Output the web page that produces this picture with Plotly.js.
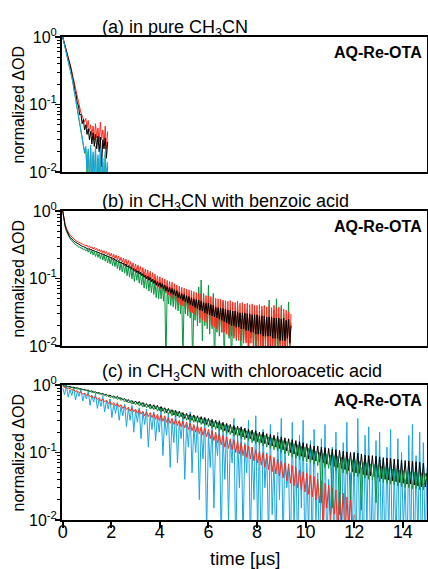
<!DOCTYPE html>
<html>
<head>
<meta charset="utf-8">
<script src="https://cdn.plot.ly/plotly-3.0.1.min.js"></script>
<style>html,body{margin:0;padding:0;background:#fff;}</style>
</head>
<body>
<div id="chart" style="width:428px;height:569px;"></div>
<script>
// ---------- data (normalized ΔOD vs time in µs) ----------
const panelTitles = ["(a) in pure CH<sub>3</sub>CN", "(b) in CH<sub>3</sub>CN with benzoic acid", "(c) in CH<sub>3</sub>CN with chloroacetic acid"];
const sampleLabel = "AQ-Re-OTA";
const yTickVals = [0.01, 0.1, 1];
const yTickText = ["10<sup>-2</sup>", "10<sup>-1</sup>", "10<sup>0</sup>"];
const xTickVals = [0, 2, 4, 6, 8, 10, 12, 14];

// panel (a): sampling step 0.05 µs
const timeStepA = 0.05;
const aBlack = [1.0,0.86,0.71,0.63,0.52,0.46,0.37,0.33,0.25,0.22,0.16,0.14,0.105,0.095,0.07,0.072,0.052,0.06,0.042,0.05,0.036,0.044,0.03,0.04,0.026,0.038,0.024,0.036,0.022,0.034,0.02,0.033,0.012,0.03,0.022,0.032,0.016,0.028];
const aRed = [1.0,0.87,0.74,0.64,0.55,0.47,0.4,0.34,0.28,0.23,0.19,0.15,0.125,0.1,0.085,0.075,0.068,0.06,0.055,0.062,0.045,0.058,0.04,0.05,0.035,0.048,0.03,0.052,0.032,0.045,0.028,0.055,0.03,0.042,0.025,0.048,0.022,0.04];
const aBlue = [1.0,0.84,0.7,0.6,0.5,0.42,0.35,0.29,0.23,0.18,0.14,0.11,0.085,0.068,0.052,0.04,0.03,0.025,0.02,0.024,0.011,0.022,0.008,0.025,0.006,0.02,0.009,0.024,0.005,0.018,0.007,0.022,0.006,0.016,0.004,0.02,0.008,0.014];
const aGreen = [1.0,0.84,0.7,0.6,0.5,0.42,0.35,0.29,0.23,0.18,0.14,0.11,0.085,0.067,0.051,0.039,0.029,0.024,0.019,0.022,0.01,0.02,0.007,0.022,0.005,0.018,0.008,0.021,0.004,0.016,0.006,0.02,0.005,0.014,0.004,0.018,0.007,0.012];

// panel (b): sampling step 0.05 µs
const timeStepB = 0.05;
const bBlack = [1.0,0.76,0.6,0.53,0.47,0.44,0.41,0.39,0.375,0.36,
  0.35,0.34,0.33,0.325,0.316,0.31,0.3,0.297,0.29,0.285,
  0.28,0.272,0.278,0.265,0.268,0.256,0.26,0.249,0.252,0.242,
  0.244,0.232,0.238,0.226,0.23,0.218,0.222,0.21,0.214,0.203,
  0.206,0.192,0.2,0.186,0.19,0.178,0.184,0.17,0.176,0.165,
  0.17,0.156,0.164,0.148,0.156,0.142,0.15,0.136,0.142,0.128,
  0.136,0.122,0.13,0.116,0.124,0.11,0.118,0.104,0.112,0.099,
  0.108,0.094,0.104,0.09,0.098,0.085,0.094,0.08,0.09,0.077,
  0.087,0.074,0.084,0.07,0.08,0.065,0.076,0.063,0.074,0.06,
  0.071,0.058,0.069,0.055,0.066,0.052,0.062,0.05,0.06,0.047,
  0.058,0.045,0.056,0.043,0.054,0.041,0.052,0.039,0.05,0.037,
  0.049,0.036,0.048,0.034,0.046,0.033,0.044,0.031,0.043,0.03,
  0.043,0.029,0.041,0.028,0.04,0.027,0.038,0.026,0.037,0.025,
  0.037,0.024,0.036,0.023,0.035,0.022,0.034,0.021,0.034,0.02,
  0.033,0.02,0.033,0.019,0.032,0.019,0.031,0.018,0.031,0.018,
  0.031,0.017,0.03,0.017,0.03,0.016,0.029,0.016,0.029,0.015,
  0.029,0.015,0.028,0.015,0.028,0.014,0.028,0.014,0.027,0.014,
  0.027,0.014,0.027,0.013,0.026,0.013,0.026,0.013,0.026,0.012,
  0.025,0.012,0.026,0.012,0.024,0.013,0.025,0.011,0.02];
const bRed = [1.0,0.78,0.63,0.56,0.5,0.47,0.44,0.42,0.4,0.385,
  0.375,0.36,0.355,0.345,0.34,0.33,0.325,0.318,0.314,0.305,
  0.31,0.29,0.305,0.282,0.296,0.272,0.288,0.264,0.28,0.256,
  0.272,0.246,0.266,0.24,0.258,0.232,0.25,0.222,0.242,0.214,
  0.236,0.205,0.228,0.198,0.222,0.19,0.214,0.182,0.206,0.174,
  0.2,0.166,0.194,0.158,0.186,0.15,0.178,0.142,0.17,0.134,
  0.164,0.126,0.158,0.12,0.15,0.113,0.145,0.106,0.138,0.1,
  0.134,0.095,0.128,0.089,0.122,0.083,0.116,0.078,0.11,0.074,
  0.106,0.07,0.102,0.065,0.098,0.061,0.094,0.057,0.09,0.054,
  0.088,0.05,0.084,0.047,0.08,0.044,0.077,0.041,0.074,0.039,
  0.072,0.037,0.07,0.035,0.068,0.032,0.066,0.031,0.064,0.029,
  0.062,0.028,0.06,0.026,0.059,0.024,0.058,0.023,0.056,0.022,
  0.055,0.021,0.054,0.02,0.052,0.019,0.051,0.018,0.05,0.017,
  0.049,0.016,0.048,0.016,0.047,0.015,0.046,0.014,0.047,0.014,
  0.045,0.013,0.044,0.013,0.046,0.012,0.043,0.012,0.044,0.011,
  0.042,0.011,0.043,0.01,0.041,0.011,0.042,0.009,0.04,0.01,
  0.04,0.009,0.041,0.01,0.039,0.008,0.04,0.009,0.038,0.008,
  0.039,0.009,0.037,0.008,0.04,0.007,0.036,0.009,0.038,0.007,
  0.036,0.008,0.035,0.007,0.034,0.009,0.032,0.008,0.03];
const bGreen = [1.0,0.74,0.58,0.5,0.45,0.42,0.39,0.37,0.355,0.34,
  0.33,0.31,0.31,0.29,0.295,0.28,0.285,0.265,0.275,0.255,
  0.27,0.245,0.27,0.232,0.26,0.222,0.252,0.212,0.245,0.205,
  0.236,0.195,0.232,0.188,0.224,0.18,0.215,0.17,0.208,0.165,
  0.2,0.155,0.194,0.15,0.185,0.14,0.178,0.132,0.17,0.125,
  0.165,0.12,0.16,0.11,0.152,0.105,0.145,0.098,0.138,0.09,
  0.132,0.094,0.126,0.085,0.12,0.08,0.114,0.072,0.108,0.07,
  0.104,0.065,0.1,0.062,0.095,0.058,0.09,0.052,0.087,0.05,
  0.084,0.05,0.081,0.046,0.078,0.005,0.074,0.042,0.072,0.04,
  0.07,0.038,0.068,0.035,0.064,0.033,0.06,0.03,0.058,0.006,
  0.056,0.03,0.055,0.028,0.053,0.026,0.05,0.005,0.048,0.024,
  0.047,0.02,0.075,0.022,0.095,0.012,0.06,0.02,0.042,0.018,
  0.08,0.015,0.04,0.018,0.06,0.005,0.037,0.016,0.036,0.014,
  0.036,0.016,0.045,0.006,0.034,0.015,0.033,0.013,0.032,0.005,
  0.032,0.014,0.031,0.012,0.04,0.015,0.03,0.004,0.03,0.013,
  0.03,0.012,0.036,0.005,0.029,0.013,0.028,0.011,0.033,0.004,
  0.028,0.012,0.027,0.01,0.034,0.005,0.027,0.012,0.026,0.01,
  0.048,0.006,0.026,0.011,0.034,0.009,0.05,0.004,0.025,0.011,
  0.04,0.01,0.03,0.005,0.024,0.012,0.045,0.009,0.022];

// panel (c): sampling step 0.075 µs
const timeStepC = 0.075;
const cBlack = [0.99,0.96,0.97,0.94,0.95,0.92,0.93,0.9,0.91,0.88,
  0.88,0.85,0.86,0.83,0.84,0.8,0.82,0.78,0.79,0.76,
  0.77,0.73,0.75,0.71,0.73,0.68,0.71,0.66,0.69,0.64,
  0.68,0.62,0.65,0.6,0.63,0.57,0.61,0.55,0.59,0.53,
  0.58,0.52,0.57,0.5,0.55,0.48,0.53,0.47,0.52,0.45,
  0.51,0.44,0.5,0.42,0.48,0.41,0.46,0.39,0.45,0.38,
  0.43,0.36,0.42,0.35,0.41,0.34,0.39,0.32,0.38,0.31,
  0.37,0.3,0.36,0.29,0.35,0.28,0.34,0.27,0.33,0.26,
  0.32,0.25,0.31,0.24,0.3,0.23,0.29,0.22,0.28,0.21,
  0.27,0.2,0.26,0.195,0.25,0.185,0.245,0.18,0.24,0.17,
  0.23,0.165,0.22,0.16,0.215,0.15,0.21,0.145,0.2,0.14,
  0.2,0.135,0.19,0.13,0.185,0.125,0.18,0.12,0.175,0.115,
  0.17,0.11,0.165,0.105,0.16,0.1,0.155,0.095,0.15,0.09,
  0.145,0.088,0.14,0.085,0.135,0.08,0.13,0.078,0.125,0.075,
  0.125,0.072,0.12,0.07,0.118,0.067,0.115,0.065,0.112,0.062,
  0.11,0.06,0.108,0.058,0.105,0.056,0.102,0.054,0.1,0.052,
  0.1,0.05,0.098,0.049,0.095,0.047,0.092,0.046,0.09,0.045,
  0.09,0.044,0.088,0.043,0.086,0.041,0.084,0.04,0.083,0.039,
  0.082,0.038,0.08,0.037,0.079,0.036,0.077,0.035,0.076,0.034,
  0.075,0.034,0.074,0.033,0.073,0.032,0.072,0.031,0.07,0.031,
  0.05];
const cGreen = [0.97,0.98,0.94,0.95,0.92,0.93,0.89,0.9,0.87,0.88,
  0.85,0.87,0.83,0.84,0.8,0.82,0.77,0.8,0.75,0.77,
  0.73,0.76,0.7,0.73,0.68,0.71,0.65,0.69,0.63,0.67,
  0.61,0.66,0.59,0.63,0.56,0.61,0.54,0.59,0.52,0.57,
  0.51,0.56,0.49,0.55,0.47,0.53,0.46,0.51,0.44,0.5,
  0.43,0.49,0.41,0.47,0.4,0.46,0.38,0.44,0.37,0.43,
  0.35,0.42,0.34,0.4,0.33,0.39,0.31,0.37,0.3,0.36,
  0.29,0.35,0.28,0.34,0.27,0.33,0.26,0.32,0.25,0.31,
  0.24,0.3,0.23,0.29,0.22,0.28,0.21,0.27,0.2,0.26,
  0.19,0.25,0.185,0.24,0.175,0.235,0.17,0.23,0.16,0.22,
  0.155,0.21,0.15,0.205,0.14,0.2,0.135,0.19,0.13,0.185,
  0.125,0.18,0.12,0.17,0.115,0.165,0.11,0.16,0.105,0.155,
  0.1,0.15,0.095,0.145,0.09,0.14,0.085,0.135,0.082,0.13,
  0.078,0.125,0.075,0.12,0.072,0.115,0.07,0.11,0.067,0.105,
  0.064,0.1,0.018,0.098,0.06,0.095,0.058,0.092,0.015,0.09,
  0.054,0.088,0.012,0.085,0.05,0.082,0.048,0.08,0.02,0.078,
  0.045,0.076,0.044,0.074,0.014,0.072,0.042,0.07,0.04,0.068,
  0.039,0.066,0.018,0.064,0.037,0.062,0.036,0.06,0.035,0.058,
  0.034,0.057,0.033,0.056,0.032,0.055,0.031,0.054,0.03,0.053,
  0.03,0.052,0.029,0.051,0.029,0.05,0.028,0.05,0.028,0.049,
  0.04];
const cRed = [0.96,0.92,0.93,0.88,0.89,0.84,0.86,0.8,0.82,0.77,
  0.79,0.73,0.76,0.7,0.73,0.67,0.7,0.64,0.67,0.61,
  0.65,0.58,0.62,0.56,0.6,0.53,0.57,0.51,0.55,0.49,
  0.53,0.47,0.51,0.45,0.49,0.43,0.47,0.41,0.46,0.4,
  0.44,0.38,0.43,0.37,0.41,0.35,0.4,0.34,0.39,0.33,
  0.38,0.31,0.37,0.3,0.36,0.29,0.35,0.28,0.33,0.27,
  0.32,0.26,0.31,0.25,0.3,0.24,0.29,0.23,0.28,0.22,
  0.27,0.21,0.26,0.2,0.25,0.19,0.24,0.18,0.23,0.17,
  0.22,0.16,0.21,0.15,0.2,0.14,0.19,0.13,0.18,0.12,
  0.17,0.115,0.16,0.11,0.155,0.1,0.15,0.095,0.14,0.09,
  0.13,0.085,0.125,0.08,0.12,0.075,0.11,0.07,0.105,0.065,
  0.1,0.06,0.095,0.056,0.09,0.052,0.085,0.048,0.08,0.045,
  0.075,0.042,0.07,0.038,0.068,0.035,0.064,0.032,0.06,0.03,
  0.055,0.028,0.052,0.026,0.05,0.024,0.046,0.022,0.044,0.02,
  0.04,0.018,0.038,0.006,0.035,0.015,0.033,0.008,0.03,0.012,
  0.028,0.005,0.026,0.01,0.025,0.004,0.022,0.008,0.02,0.005,
  0.012];
const cBlue = [0.9,0.72,0.98,0.66,0.85,0.7,0.92,0.6,0.8,0.68,
  0.86,0.58,0.75,0.62,0.8,0.5,0.7,0.56,0.74,0.45,
  0.62,0.48,0.68,0.4,0.58,0.44,0.62,0.33,0.52,0.38,
  0.55,0.3,0.48,0.35,0.52,0.24,0.45,0.3,0.5,0.2,
  0.42,0.28,0.46,0.16,0.4,0.26,0.44,0.12,0.36,0.22,
  0.4,0.15,0.34,0.2,0.45,0.09,0.32,0.18,0.38,0.06,
  0.3,0.14,0.42,0.07,0.28,0.16,0.36,0.04,0.26,0.12,
  0.4,0.05,0.24,0.1,0.3,0.02,0.22,0.08,0.33,0.006,
  0.2,0.06,0.28,0.015,0.18,0.09,0.3,0.004,0.2,0.04,
  0.26,0.01,0.15,0.07,0.32,0.003,0.18,0.03,0.24,0.005,
  0.14,0.05,0.3,0.004,0.12,0.02,0.35,0.006,0.16,0.002,
  0.22,0.03,0.1,0.005,0.26,0.012,0.08,0.003,0.2,0.02,
  0.32,0.004,0.12,0.03,0.06,0.002,0.28,0.008,0.1,0.003,
  0.18,0.015,0.3,0.002,0.07,0.006,0.15,0.003,0.22,0.01,
  0.05,0.002,0.16,0.008,0.26,0.003,0.04,0.012,0.12,0.002,
  0.2,0.004,0.07,0.002,0.14,0.009,0.28,0.003,0.05,0.006,
  0.1,0.002,0.32,0.005,0.06,0.002,0.18,0.008,0.24,0.003,
  0.04,0.002,0.15,0.006,0.2,0.003,0.08,0.002,0.12,0.005,
  0.22,0.002,0.06,0.004,0.16,0.002,0.1,0.007,0.04,0.002,
  0.18,0.003,0.26,0.002,0.09,0.005,0.2,0.002,0.14,0.004,
  0.06];

// ---------- styling ----------
const COLORS = {black: "#000000", red: "#ff2b1c", blue: "#1aa6e0", green: "#0a9640"};
const FONT = "Liberation Sans, Arial, Helvetica, sans-serif";

function tr(y, step, color, xa, ya) {
  return {type: "scatter", mode: "lines", y: y, x0: 0, dx: step,
    xaxis: xa, yaxis: ya, line: {color: color, width: 1}, hoverinfo: "skip", showlegend: false};
}

const data = [
  // panel (a): top
  tr(aGreen, timeStepA, COLORS.green, "x3", "y3"),
  tr(aRed, timeStepA, COLORS.red, "x3", "y3"),
  tr(aBlack, timeStepA, COLORS.black, "x3", "y3"),
  tr(aBlue, timeStepA, COLORS.blue, "x3", "y3"),
  // panel (b): middle
  tr(bGreen, timeStepB, COLORS.green, "x2", "y2"),
  tr(bRed, timeStepB, COLORS.red, "x2", "y2"),
  tr(bBlack, timeStepB, COLORS.black, "x2", "y2"),
  // panel (c): bottom
  tr(cBlue, timeStepC, COLORS.blue, "x", "y"),
  tr(cRed, timeStepC, COLORS.red, "x", "y"),
  tr(cBlack, timeStepC, COLORS.black, "x", "y"),
  tr(cGreen, timeStepC, COLORS.green, "x", "y")
];

const minorVals = [0.02,0.03,0.04,0.05,0.06,0.07,0.08,0.09,0.2,0.3,0.4,0.5,0.6,0.7,0.8,0.9];

function xAx(anchor, showLabels) {
  return {anchor: anchor, range: [-0.03, 15], showgrid: false, zeroline: false,
    showline: true, mirror: true, linecolor: "#000", linewidth: 2,
    ticks: showLabels ? "outside" : "", ticklen: 6, tickwidth: 2, tickcolor: "#000",
    tickmode: "array", tickvals: xTickVals, showticklabels: showLabels,
    ticklabelstandoff: -12,
    tickfont: {family: FONT, size: 18, color: "#000"}};
}
function yAx(anchor, domain) {
  return {anchor: anchor, domain: domain, type: "log", range: [-2, 0],
    showgrid: false, zeroline: false, showline: true, mirror: true,
    linecolor: "#000", linewidth: 2,
    ticks: "outside", ticklen: 5, tickwidth: 1.5, tickcolor: "#000",
    tickmode: "array", tickvals: yTickVals, ticktext: yTickText,
    ticklabelstandoff: -5,
    tickfont: {family: FONT, size: 16, color: "#000"},
    minor: {tickmode: "array", tickvals: minorVals, ticks: "outside", ticklen: 3, tickwidth: 1, tickcolor: "#000"}};
}

const titleYs = [1.0176, 0.6573, 0.3054];
const yDomRefs = ["y3 domain", "y2 domain", "y domain"];
const annotations = [];
panelTitles.forEach((t, i) => {
  annotations.push({text: t, xref: "paper", yref: "paper", x: 0.104, y: titleYs[i],
    xanchor: "left", yanchor: "middle", showarrow: false,
    font: {family: FONT, size: 18, color: "#000"}});
  annotations.push({text: "<b>" + sampleLabel + "</b>", xref: "paper", yref: yDomRefs[i],
    x: 0.992, y: 0.885, xanchor: "right", yanchor: "middle", showarrow: false,
    font: {family: FONT, size: 16, color: "#000"}});
  annotations.push({text: "normalized ΔOD", xref: "paper", yref: yDomRefs[i],
    x: -0.118, y: 0.5, xanchor: "center", yanchor: "middle", textangle: -90, showarrow: false,
    font: {family: FONT, size: 16, color: "#000"}});
});
annotations.push({text: "time [µs]", xref: "paper", yref: "paper", x: 0.5, y: -0.0787,
  xanchor: "center", yanchor: "middle", showarrow: false,
  font: {family: FONT, size: 18.5, color: "#000"}});

const layout = {
  width: 428, height: 569,
  margin: {l: 62, r: 1, t: 37, b: 49},
  paper_bgcolor: "#fff", plot_bgcolor: "#fff",
  showlegend: false,
  xaxis: xAx("y", true),
  xaxis2: xAx("y2", false),
  xaxis3: xAx("y3", false),
  yaxis: yAx("x", [0, 0.2795]),
  yaxis2: yAx("x2", [0.3602, 0.6398]),
  yaxis3: yAx("x3", [0.7205, 1]),
  annotations: annotations
};

Plotly.newPlot("chart", data, layout, {staticPlot: true, displayModeBar: false});
</script>
</body>
</html>
